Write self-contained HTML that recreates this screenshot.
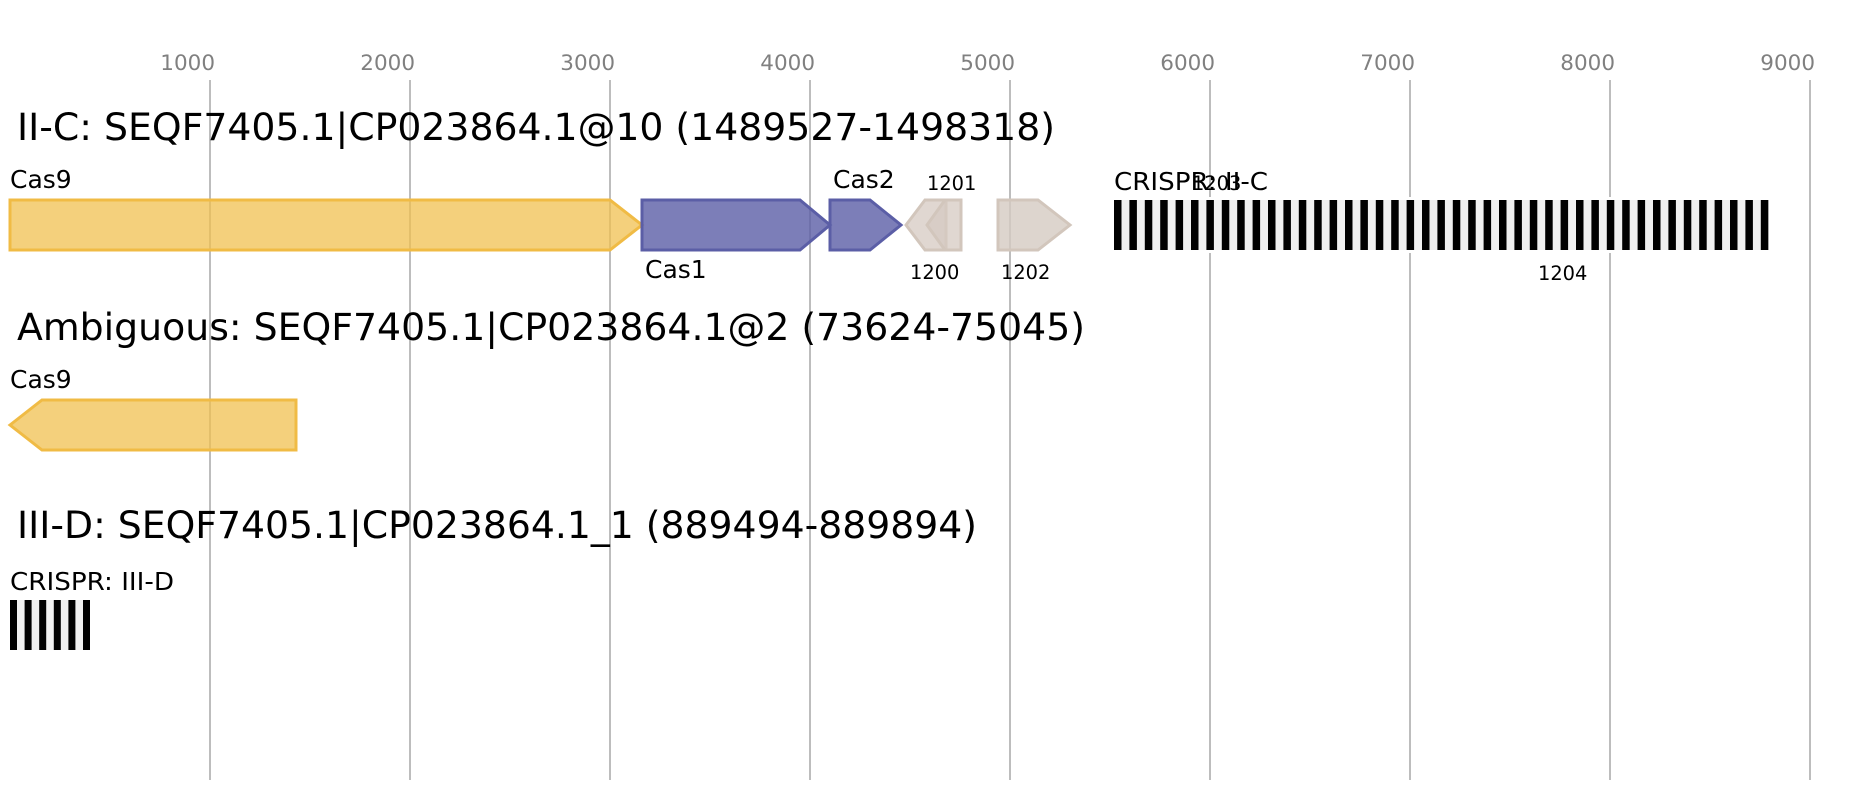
<!DOCTYPE html>
<html><head><meta charset="utf-8"><style>
html,body{margin:0;padding:0;background:#fff;}
svg{display:block;font-family:"DejaVu Sans","Liberation Sans",sans-serif;}
</style></head><body>
<svg width="1858" height="800" viewBox="0 0 1858 800" xmlns="http://www.w3.org/2000/svg">
<rect width="1858" height="800" fill="#fff"/>
<g stroke="#bdbdbd" stroke-width="2">
<line x1="210" y1="80" x2="210" y2="780"/><line x1="410" y1="80" x2="410" y2="780"/>
<line x1="610" y1="80" x2="610" y2="780"/><line x1="810" y1="80" x2="810" y2="780"/>
<line x1="1010" y1="80" x2="1010" y2="780"/><line x1="1210" y1="80" x2="1210" y2="780"/>
<line x1="1410" y1="80" x2="1410" y2="780"/><line x1="1610" y1="80" x2="1610" y2="780"/>
<line x1="1810" y1="80" x2="1810" y2="780"/>
</g>
<g fill="#808080" font-size="21.5" text-anchor="end">
<text x="215" y="70">1000</text><text x="415" y="70">2000</text><text x="615" y="70">3000</text>
<text x="815" y="70">4000</text><text x="1015" y="70">5000</text><text x="1215" y="70">6000</text>
<text x="1415" y="70">7000</text><text x="1615" y="70">8000</text><text x="1815" y="70">9000</text>
</g>
<g font-size="37.8" fill="#000">
<text x="17" y="140" textLength="1038" lengthAdjust="spacingAndGlyphs">II-C: SEQF7405.1|CP023864.1@10 (1489527-1498318)</text>
<text x="17" y="340" textLength="1068" lengthAdjust="spacingAndGlyphs">Ambiguous: SEQF7405.1|CP023864.1@2 (73624-75045)</text>
<text x="17" y="538" textLength="960" lengthAdjust="spacingAndGlyphs">III-D: SEQF7405.1|CP023864.1_1 (889494-889894)</text>
</g>
<g font-size="25" fill="#000">
<text x="10" y="188">Cas9</text>
<text x="645" y="278">Cas1</text>
<text x="833" y="188">Cas2</text>
<text x="1114" y="190" textLength="154" lengthAdjust="spacingAndGlyphs">CRISPR: II-C</text>
<text x="10" y="388">Cas9</text>
<text x="10" y="590" textLength="164" lengthAdjust="spacingAndGlyphs">CRISPR: III-D</text>
</g>
<g font-size="19.4" fill="#000">
<text x="927" y="190">1201</text>
<text x="910" y="279">1200</text>
<text x="1001" y="279">1202</text>
<text x="1192" y="190">1203</text>
<text x="1538" y="280">1204</text>
</g>
<g stroke-width="3">
<polygon points="10,200 610,200 642,225 610,250 10,250" fill="#f0c050" fill-opacity="0.75" stroke="#f0bb45"/>
<polygon points="642,200 800,200 830,225 800,250 642,250" fill="#5b5ea6" fill-opacity="0.8" stroke="#5b5ea6"/>
<polygon points="830,200 870,200 901,225 870,250 830,250" fill="#5b5ea6" fill-opacity="0.8" stroke="#5b5ea6"/>
<polygon points="906,225 925,200 946,200 946,250 925,250" fill="#d5cac2" fill-opacity="0.75" stroke="#d2c6bc"/>
<polygon points="927,225 945,200 961,200 961,250 945,250" fill="#d5cac2" fill-opacity="0.75" stroke="#d2c6bc"/>
<polygon points="998,200 1038,200 1070,225 1038,250 998,250" fill="#d5cac2" fill-opacity="0.8" stroke="#d2c6bc"/>
<polygon points="10,425 42,400 296,400 296,450 42,450" fill="#f0c050" fill-opacity="0.75" stroke="#f0bb45"/>
</g>
<rect x="1114" y="197" width="655" height="56" fill="#fff"/>
<rect x="1114" y="200" width="655" height="50" fill="#f0f0f0"/>
<g fill="#000" id="bars"></g>
<rect x="10" y="600" width="80" height="50" fill="#f0f0f0"/>
<g fill="#000">
<rect x="10" y="600" width="7" height="50"/><rect x="24.6" y="600" width="7" height="50"/>
<rect x="39.2" y="600" width="7" height="50"/><rect x="53.8" y="600" width="7" height="50"/>
<rect x="68.4" y="600" width="7" height="50"/><rect x="83" y="600" width="7" height="50"/>
</g>
<script>
var g=document.getElementById('bars');
for(var i=0;i<43;i++){var r=document.createElementNS('http://www.w3.org/2000/svg','rect');
r.setAttribute('x',1114+i*15.4);r.setAttribute('y',200);r.setAttribute('width',7.5);r.setAttribute('height',50);g.appendChild(r);}
</script>
</svg>
</body></html>
